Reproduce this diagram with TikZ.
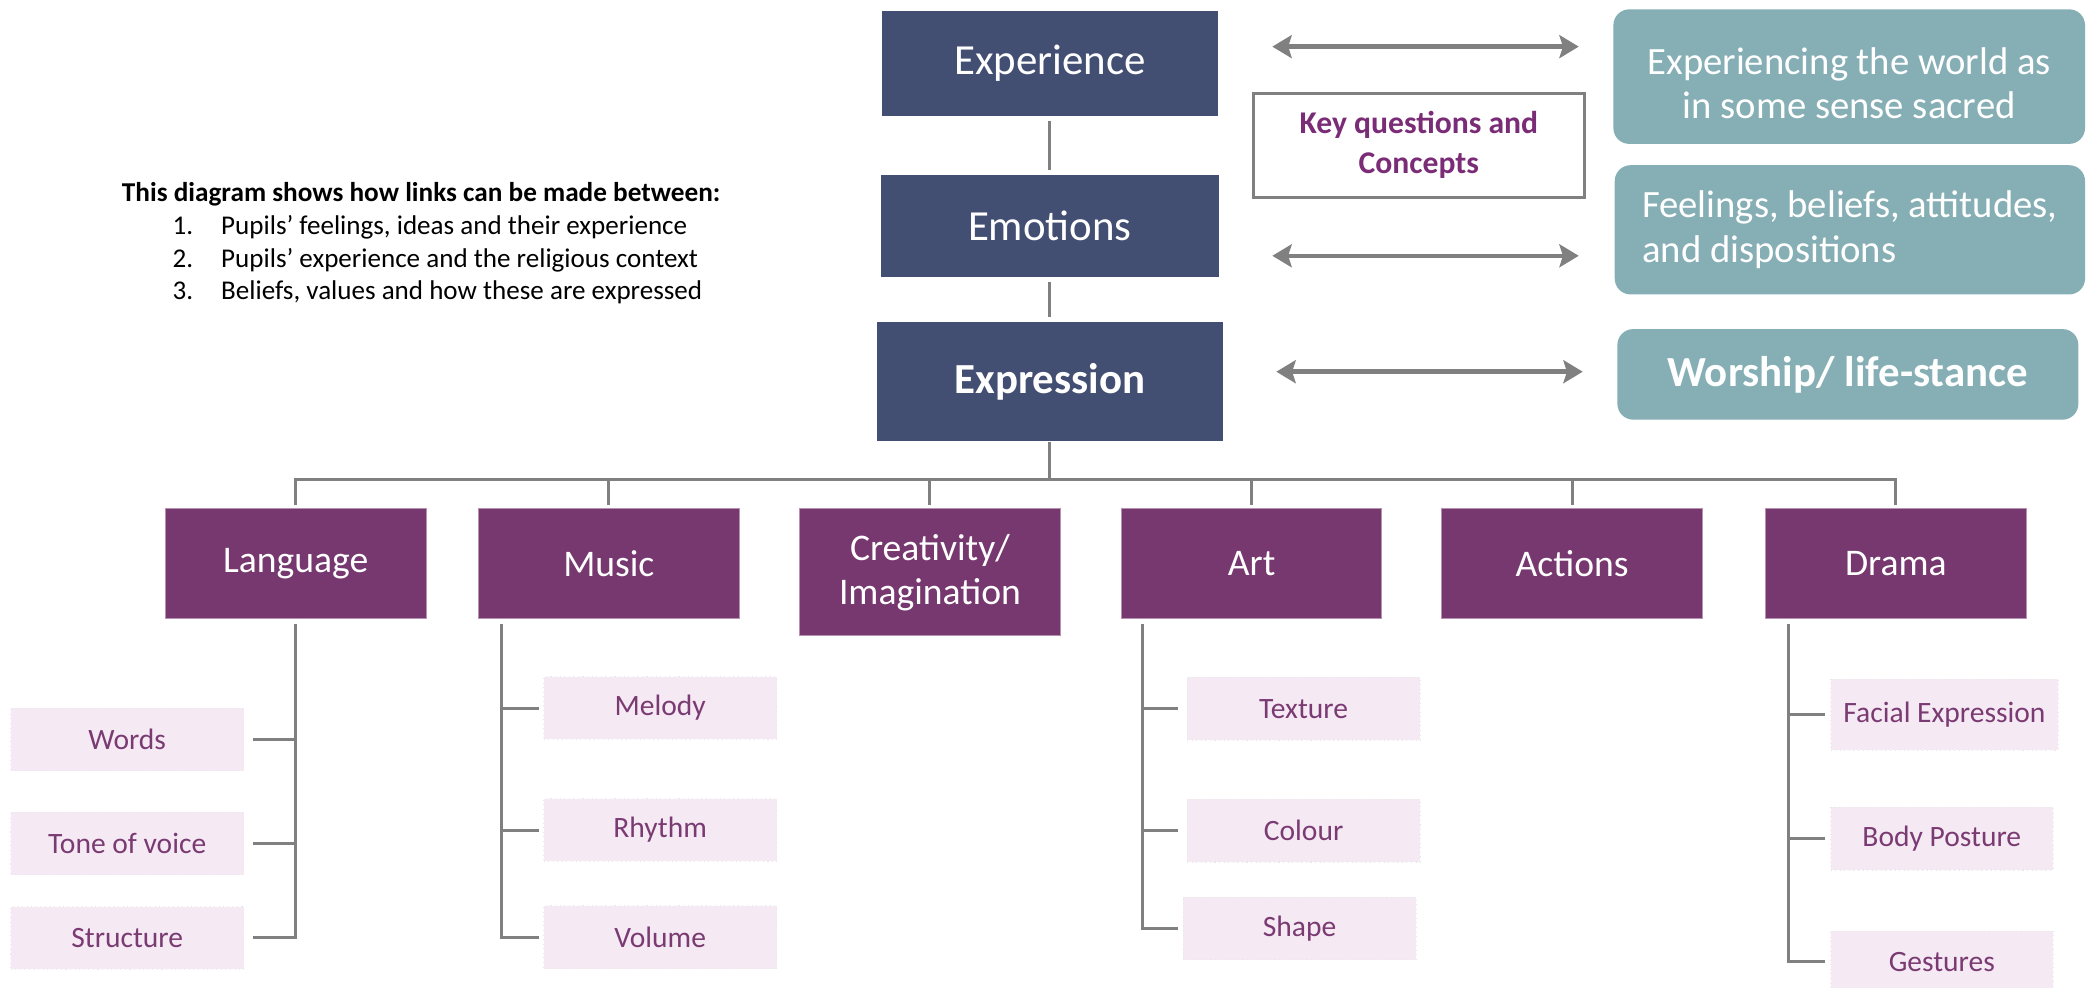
\documentclass[tikz,border=0pt]{standalone}
\usepackage{fontspec}
\setmainfont{Carlito}
\usetikzlibrary{arrows.meta}

\definecolor{navyfill}{RGB}{67,78,115}
\definecolor{plumfill}{RGB}{118,56,111}
\definecolor{tealfill}{RGB}{134,175,181}
\definecolor{pinkfill}{RGB}{245,233,244}
\definecolor{plumtext}{RGB}{122,58,114}
\definecolor{keytext}{RGB}{123,44,119}
\definecolor{linegray}{RGB}{128,128,128}
\newcommand{\unitpx}{0.013323cm}

\begin{document}
\begin{tikzpicture}[x=0.013323cm, y=-0.013323cm,
  topbox/.style={fill=navyfill, text=white, inner sep=0pt, minimum width=252*\unitpx, minimum height=79*\unitpx, font=\fontsize{12.2}{14}\selectfont},
  mainbox/.style={fill=plumfill, draw=plumfill!55!white, line width=0.3pt, text=white, inner sep=0pt, align=center, minimum width=196*\unitpx, minimum height=82*\unitpx, font=\fontsize{10.7}{12.5}\selectfont},
  subbox/.style={fill=pinkfill, draw=black!9, densely dotted, line width=0.3pt, text=plumtext, inner sep=0pt, minimum width=175*\unitpx, minimum height=47*\unitpx, font=\fontsize{8.4}{10}\selectfont},
  roundbox/.style={fill=tealfill, rounded corners=4.5pt, text=white, inner sep=0pt, font=\fontsize{11}{12.6}\selectfont},
  link/.style={draw=linegray, line width=0.85pt},
  twoway/.style={draw=linegray, line width=1.3pt, {Stealth[length=5.5pt,width=6.5pt,inset=1pt]}-{Stealth[length=5.5pt,width=6.5pt,inset=1pt]}},
  listtext/.style={anchor=base west, inner sep=0pt, font=\fontsize{7.7}{9}\selectfont}
]
\useasboundingbox (0,0) rectangle (1568,741);

% Intro text on the left
\node[listtext, font=\bfseries\fontsize{7.75}{9}\selectfont] (intro) at (91,151.5) {This diagram shows how links can be made between:};
\node[listtext] (num1) at (129,176) {1.};
\node[listtext] (item1) at (165.5,176) {Pupils’ feelings, ideas and their experience};
\node[listtext] (num2) at (129,201) {2.};
\node[listtext] (item2) at (165.5,201) {Pupils’ experience and the religious context};
\node[listtext] (num3) at (129,224.5) {3.};
\node[listtext] (item3) at (165.5,224.5) {Beliefs, values and how these are expressed};

% Central column
\node[topbox] (exp) at (788,47.5) {Experience};
\node[topbox, minimum width=254*\unitpx, minimum height=77*\unitpx] (emo) at (788,169.5) {Emotions};
\node[topbox, minimum width=260*\unitpx, minimum height=89*\unitpx, font=\bfseries\fontsize{12.2}{14}\selectfont] (expr) at (788,286.5) {Expression};
\draw[link, shorten <=1.2pt, shorten >=1.2pt] (exp.south) -- (emo.north);
\draw[link, shorten <=1.2pt, shorten >=1.2pt] (emo.south) -- (expr.north);

% Key questions box
\node[draw=linegray, line width=0.8pt, fill=white, inner sep=0pt, minimum width=248*\unitpx, minimum height=78*\unitpx, align=center, text=keytext, font=\bfseries\fontsize{9}{11.4}\selectfont] (keyq) at (1065,109) {Key questions and\\Concepts};

% Right column
\node[roundbox, minimum width=354*\unitpx, minimum height=101*\unitpx] (sacred) at (1388,57.5) {};
\node[text=white, inner sep=0pt, align=center, font=\fontsize{11}{12.6}\selectfont] (sacredlbl) at (1388,62.5) {Experiencing the world as\\in some sense sacred};
\node[roundbox, minimum width=353*\unitpx, minimum height=97*\unitpx, align=left] (feel) at (1388.5,172.5) {Feelings, beliefs, attitudes,\\and dispositions};
\node[roundbox, minimum width=346*\unitpx, minimum height=68*\unitpx, font=\bfseries\fontsize{12.2}{14}\selectfont] (worship) at (1387,281) {Worship/ life-stance};

\coordinate (a1l) at (955,35);  \coordinate (a1r) at (1185,35);
\coordinate (a2l) at (955,192); \coordinate (a2r) at (1185,192);
\coordinate (a3l) at (958,279); \coordinate (a3r) at (1188,279);
\draw[twoway] (a1l) -- (a1r);
\draw[twoway] (a2l) -- (a2r);
\draw[twoway] (a3l) -- (a3r);

% Forms of expression
\node[mainbox] (lang) at (222,423) {Language};
\node[mainbox] (music) at (457,423) {Music};
\node[mainbox, minimum height=95*\unitpx] (creat) at (698,429.5) {Creativity/\\Imagination};
\node[mainbox, minimum width=195*\unitpx] (art) at (939.5,423) {Art};
\node[mainbox] (act) at (1180,423) {Actions};
\node[mainbox] (drama) at (1423,423) {Drama};

\coordinate (bus) at (788,360);
\draw[link] (expr.south) -- (bus);
\draw[link, shorten >=1pt] (bus) -| (lang.north);
\draw[link, shorten >=1pt] (bus) -| (music.north);
\draw[link, shorten >=1pt] (bus) -| (creat.north);
\draw[link, shorten >=1pt] (bus) -| (art.north);
\draw[link, shorten >=1pt] (bus) -| (act.north);
\draw[link, shorten >=1pt] (bus) -| (drama.north);

% Language
\node[subbox] (words) at (95.5,555) {Words};
\node[subbox] (tone) at (95.5,633) {Tone of voice};
\node[subbox] (struct) at (95.5,704) {Structure};
\draw[link, shorten <=1.5pt, shorten >=2.6pt] (lang.south) |- (words.east);
\draw[link, shorten <=1.5pt, shorten >=2.6pt] (lang.south) |- (tone.east);
\draw[link, shorten <=1.5pt, shorten >=2.6pt] (lang.south) |- (struct.east);

% Music
\node[subbox] (melody) at (495.5,531.5) {Melody};
\node[subbox] (rhythm) at (495.5,623) {Rhythm};
\node[subbox] (volume) at (495.5,703.5) {Volume};
\draw[link, shorten <=1.5pt, shorten >=1.1pt] ([xshift=18*\unitpx]music.south west) |- (melody.west);
\draw[link, shorten <=1.5pt, shorten >=1.1pt] ([xshift=18*\unitpx]music.south west) |- (rhythm.west);
\draw[link, shorten <=1.5pt, shorten >=1.1pt] ([xshift=18*\unitpx]music.south west) |- (volume.west);

% Art
\node[subbox] (texture) at (978.5,532) {Texture};
\node[subbox] (colour) at (978.5,623.5) {Colour};
\node[subbox] (shape) at (975.5,697) {Shape};
\draw[link, shorten <=1.5pt, shorten >=2.3pt] ([xshift=16*\unitpx]art.south west) |- (texture.west);
\draw[link, shorten <=1.5pt, shorten >=2.3pt] ([xshift=16*\unitpx]art.south west) |- (colour.west);
\draw[link, shorten <=1.5pt, shorten >=1.2pt] ([xshift=16*\unitpx]art.south west) |- (shape.west);

% Drama
\node[subbox, minimum width=171*\unitpx, minimum height=53*\unitpx] (facial) at (1459.5,536.5) {Facial Expression};
\node[subbox, minimum width=167*\unitpx] (posture) at (1457.5,629.5) {Body Posture};
\node[subbox, minimum width=167*\unitpx, minimum height=46*\unitpx] (gest) at (1457.5,722) {Gestures};
\draw[link, shorten <=1.5pt, shorten >=1.5pt] ([xshift=18*\unitpx]drama.south west) |- (facial.west);
\draw[link, shorten <=1.5pt, shorten >=1.5pt] ([xshift=18*\unitpx]drama.south west) |- (posture.west);
\draw[link, shorten <=1.5pt, shorten >=1.5pt] ([xshift=18*\unitpx]drama.south west) |- (gest.west);
\end{tikzpicture}
\end{document}
